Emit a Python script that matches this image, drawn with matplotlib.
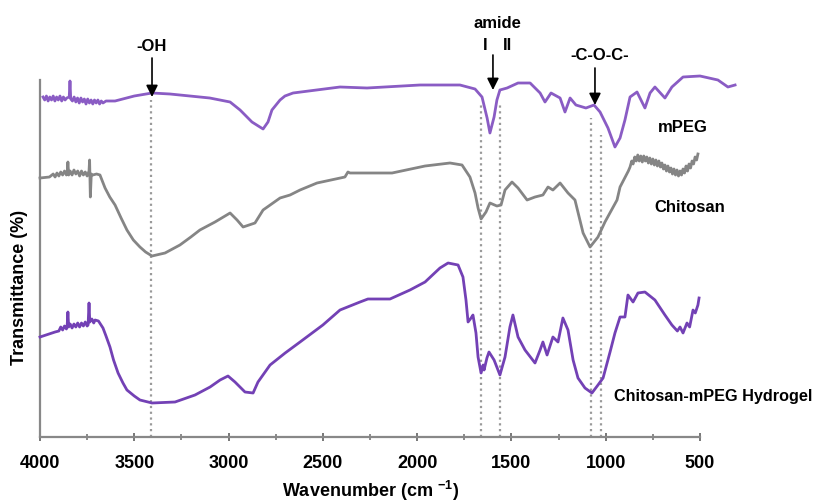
import matplotlib
matplotlib.use("Agg")
import matplotlib.pyplot as plt
from matplotlib.ticker import MultipleLocator

plt.rcParams['font.family'] = ['Liberation Sans', 'DejaVu Sans']
plt.rcParams['mathtext.fontset'] = 'custom'
plt.rcParams['mathtext.rm'] = 'Liberation Sans:bold'
plt.rcParams['mathtext.bf'] = 'Liberation Sans:bold'

# ---------------- data (wavenumber cm-1, transmittance arb. units) ----------------
mpeg_wn = [3984, 3975, 3966, 3957, 3948, 3939, 3930, 3921, 3912, 3903, 3894, 3885, 3876, 3867,
           3858, 3845, 3841, 3837, 3828, 3819, 3810, 3801, 3792, 3783, 3774, 3765, 3756, 3747,
           3738, 3729, 3720, 3711, 3702, 3693, 3684, 3675, 3666, 3650, 3602, 3500, 3406,
           3311, 3100, 2992, 2939, 2876, 2817, 2791, 2770, 2727, 2701, 2658, 2409, 2266, 1985,
           1773, 1693, 1656, 1629, 1614, 1592, 1577, 1561, 1523, 1465, 1401, 1348, 1322, 1290,
           1242, 1216, 1189, 1158, 1105, 1062, 1030, 988, 951, 924, 898, 871, 834, 792, 765,
           739, 686, 649, 590, 500, 405, 352, 314]
mpeg_t = [340, 337, 341, 336, 340, 337, 341, 336, 340, 337, 341, 336, 340, 337,
          339, 340, 356, 338, 336, 340, 335, 339, 334, 339, 335, 338, 333, 338,
          334, 337, 333, 337, 334, 337, 333, 336, 334, 336, 336, 341, 344,
          343, 339, 335, 327, 315, 308, 315, 327, 337, 341, 344, 350, 349, 352,
          352, 348, 340, 319, 304, 320, 337, 347, 349, 354, 354, 344, 335, 344,
          339, 325, 339, 332, 329, 332, 325, 309, 290, 299, 317, 340, 345, 329, 344,
          350, 339, 350, 360, 361, 357, 350, 352]

chit_wn = [4000, 3950, 3930, 3920, 3910, 3900, 3890, 3880, 3870, 3860, 3856, 3852, 3848, 3840,
           3830, 3820, 3810, 3800, 3790, 3780, 3770, 3760, 3750, 3740, 3737, 3733, 3728, 3720,
           3700, 3682, 3655, 3630, 3602, 3570, 3539, 3505, 3470, 3440, 3406, 3337, 3258, 3200,
           3152, 3072, 2992, 2955, 2923, 2860, 2817, 2727, 2674, 2621, 2531, 2383, 2367, 2356,
           2133, 1958, 1826, 1762, 1720, 1693, 1677, 1661, 1635, 1614, 1577, 1555, 1534, 1497,
           1465, 1417, 1375, 1333, 1306, 1280, 1242, 1200, 1163, 1120, 1083, 1041, 1004, 940,
           924, 880, 871, 862, 855, 846, 838, 830, 822, 814, 806, 798, 790, 782, 774, 766, 758,
           750, 742, 734, 726, 718, 710, 702, 694, 686, 678, 670, 662, 654, 646, 638, 630, 622,
           614, 606, 598, 590, 582, 574, 566, 558, 550, 542, 534, 526, 518, 511]
chit_t = [259, 260, 263, 260, 264, 261, 265, 262, 266, 262, 264, 275, 262, 266,
          262, 267, 263, 266, 261, 266, 262, 265, 261, 266, 277, 240, 263, 262,
          263, 262, 249, 240, 232, 219, 207, 197, 190, 185, 181, 184, 192, 200,
          207, 215, 224, 217, 210, 214, 227, 239, 242, 247, 254, 260, 265, 264,
          264, 271, 274, 272, 260, 244, 229, 218, 225, 234, 231, 232, 247, 255,
          249, 237, 240, 242, 250, 247, 254, 244, 237, 204, 190, 200, 215, 237,
          250, 266, 270, 276, 273, 280, 276, 282, 276, 281, 275, 281, 276, 280, 274, 279, 273,
          278, 272, 277, 271, 276, 270, 274, 268, 272, 266, 271, 265, 269, 263, 268, 262, 267,
          261, 266, 262, 268, 264, 271, 266, 273, 269, 276, 273, 280, 277, 283]

gel_wn = [4000, 3920, 3900, 3890, 3880, 3870, 3860, 3856, 3852, 3848, 3840, 3830, 3820, 3810,
          3800, 3790, 3780, 3770, 3760, 3750, 3745, 3740, 3736, 3725, 3715, 3708, 3690, 3666,
          3650, 3629, 3610, 3586, 3560, 3539, 3500, 3470, 3406, 3284, 3178, 3098, 3045, 3003,
          2966, 2913, 2870, 2844, 2780, 2700, 2621, 2500, 2409, 2303, 2261, 2144, 2038, 1958,
          1879, 1836, 1783, 1757, 1741, 1730, 1714, 1704, 1688, 1677, 1661, 1650, 1645, 1630,
          1619, 1592, 1561, 1534, 1508, 1492, 1465, 1428, 1375, 1348, 1333, 1311, 1280, 1253,
          1227, 1200, 1173, 1147, 1110, 1073, 1041, 1014, 977, 951, 924, 898, 882, 855, 829,
          792, 739, 686, 649, 620, 606, 590, 569, 555, 537, 525, 511, 505]
gel_t = [100, 105, 106, 110, 107, 111, 108, 111, 125, 110, 113, 109, 113, 110,
         114, 110, 114, 111, 115, 111, 112, 134, 115, 118, 114, 117, 116, 109,
         101, 90, 77, 64, 54, 47, 41, 37, 34, 35, 42, 50, 57, 61,
         55, 45, 44, 55, 72, 84, 95, 112, 127, 135, 138, 138, 147, 155,
         169, 174, 172, 160, 137, 115, 119, 122, 104, 80, 64, 72, 67, 79,
         85, 77, 62, 80, 110, 122, 100, 87, 74, 87, 95, 82, 100, 95,
         119, 107, 77, 59, 49, 44, 52, 59, 85, 104, 120, 120, 142, 135, 144,
         145, 137, 122, 112, 106, 110, 104, 114, 110, 127, 124, 132, 139]

# marker lines: (wavenumber, top of dotted line)
guide_wn = [3411, 1661, 1561, 1078, 1025]
guide_top = [337, 332, 332, 319, 302]

x_ticks = [4000, 3500, 3000, 2500, 2000, 1500, 1000, 500]

W, H = 813, 503
fig = plt.figure(figsize=(W / 100, H / 100), dpi=100)
ax = fig.add_axes([40 / W, (H - 437) / H, 660 / W, (437 - 80) / H])

purple1 = '#8a5cc4'
purple2 = '#7341b5'
grey = '#858585'

for wn, top in zip(guide_wn, guide_top):
    ax.plot([wn, wn], [0, top], color='#9a9a9a', lw=1.6, ls=(0, (1, 1.6)), zorder=1)

ax.plot(mpeg_wn, mpeg_t, color=purple1, lw=2.0, clip_on=False, zorder=3,
        solid_joinstyle='round')
ax.plot(chit_wn, chit_t, color=grey, lw=2.0, clip_on=False, zorder=3,
        solid_joinstyle='round')
ax.plot(gel_wn, gel_t, color=purple2, lw=2.0, clip_on=False, zorder=3,
        solid_joinstyle='round')

ax.set_xlim(4000, 500)
ax.set_ylim(0, 357)
ax.set_xticks(x_ticks)
ax.xaxis.set_minor_locator(MultipleLocator(250))
ax.set_yticks([])
for s in ['top', 'right']:
    ax.spines[s].set_visible(False)
for s in ['left', 'bottom']:
    ax.spines[s].set_color('#888888')
    ax.spines[s].set_linewidth(1.6)
ax.tick_params(axis='x', which='major', direction='inout', length=6, width=1.4,
               color='#777777', pad=10, labelsize=13)
ax.tick_params(axis='x', which='minor', direction='inout', length=4, width=1.2,
               color='#777777')
for lab in ax.get_xticklabels():
    lab.set_fontweight('bold')

# annotation arrows
arrow_kw = dict(arrowstyle='-|>,head_length=0.7,head_width=0.35', color='black', lw=1.2,
                shrinkA=0, shrinkB=0)
ax.annotate('', xy=(3406, 340), xytext=(3406, 379), arrowprops=arrow_kw, annotation_clip=False)
ax.annotate('', xy=(1598, 347), xytext=(1598, 382), arrowprops=arrow_kw, annotation_clip=False)
ax.annotate('', xy=(1057, 332), xytext=(1057, 369), arrowprops=arrow_kw, annotation_clip=False)

def ftxt(x, y, s, size=12, ha='center', **kw):
    fig.text(x / W, 1 - y / H, s, ha=ha, va='center', fontsize=size, fontweight='bold', **kw)

ftxt(152, 46, '-OH')
ftxt(497, 24, 'amide')
ftxt(485, 45, 'I')
ftxt(507, 45, 'II')
ftxt(600, 55, '-C-O-C-')
ftxt(683, 127, 'mPEG')
ftxt(690, 207, 'Chitosan')
ftxt(713, 397, 'Chitosan-mPEG Hydrogel', size=11.7)

fig.text(20 / W, 1 - 287 / H, 'Transmittance (%)', rotation=90, ha='center', va='center',
         fontsize=13, fontweight='bold')
fig.text(371 / W, 1 - 491 / H, r'Wavenumber (cm $^{\mathbf{-1}}$)', ha='center', va='center',
         fontsize=13, fontweight='bold')

fig.savefig('out.png', dpi=100)
